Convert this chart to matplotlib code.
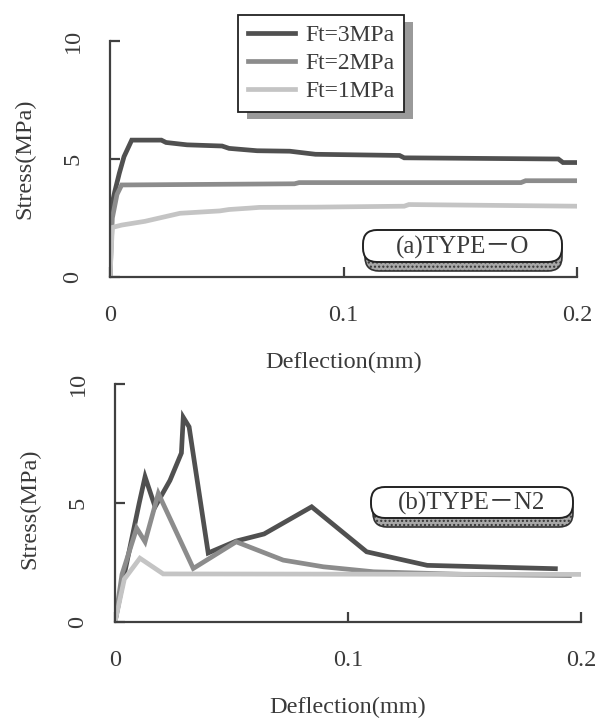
import matplotlib
matplotlib.use("Agg")
import matplotlib.pyplot as plt
from matplotlib.patches import FancyBboxPatch, Rectangle
from matplotlib.transforms import Affine2D

# ---------------- data ----------------
series_labels = ["Ft=3MPa", "Ft=2MPa", "Ft=1MPa"]

top_x3 = [0, 0.0005, 0.002, 0.004, 0.006, 0.0093, 0.022, 0.024, 0.033, 0.048, 0.051, 0.063, 0.077, 0.088, 0.124, 0.126, 0.192, 0.194, 0.2]
top_y3 = [0, 2.9, 3.6, 4.4, 5.1, 5.8, 5.8, 5.7, 5.6, 5.55, 5.45, 5.35, 5.33, 5.2, 5.15, 5.05, 5.0, 4.85, 4.85]
top_x2 = [0, 0.001, 0.003, 0.005, 0.079, 0.081, 0.176, 0.178, 0.2]
top_y2 = [0, 2.5, 3.5, 3.9, 3.95, 4.0, 4.0, 4.08, 4.08]
top_x1 = [0, 0.001, 0.005, 0.015, 0.030, 0.047, 0.051, 0.060, 0.064, 0.088, 0.126, 0.128, 0.2]
top_y1 = [0, 2.1, 2.2, 2.36, 2.7, 2.8, 2.86, 2.92, 2.95, 2.96, 3.0, 3.07, 3.0]

bot_x3 = [0, 0.004, 0.0104, 0.0129, 0.0172, 0.0236, 0.0285, 0.0293, 0.0318, 0.040, 0.052, 0.064, 0.0844, 0.108, 0.134, 0.189]
bot_y3 = [0, 2.0, 5.0, 6.1, 4.84, 5.95, 7.1, 8.6, 8.2, 2.9, 3.4, 3.7, 4.84, 2.95, 2.38, 2.24]
bot_x2 = [0, 0.003, 0.0093, 0.0129, 0.0186, 0.0336, 0.052, 0.0722, 0.0894, 0.111, 0.15, 0.195]
bot_y2 = [0, 2.0, 3.94, 3.37, 5.4, 2.25, 3.37, 2.6, 2.32, 2.11, 2.0, 1.95]
bot_x1 = [0, 0.004, 0.0107, 0.0207, 0.2]
bot_y1 = [0, 1.8, 2.68, 2.02, 2.0]

x_ticks = [0, 0.1, 0.2]
x_ticklabels = ["0", "0.1", "0.2"]
y_ticks = [0, 5, 10]
y_ticklabels = ["0", "5", "10"]
x_label = "Deflection(mm)"
y_label = "Stress(MPa)"
panel_titles = ["(a)TYPE－O", "(b)TYPE－N2"]

# ---------------- style ----------------
plt.rcParams["font.family"] = ["Liberation Serif", "Noto Sans CJK JP", "DejaVu Sans"]
TXT = "#3a3a3a"
colors = ["#505050", "#8c8c8c", "#c4c4c4"]
LW = 3.4
FS = 17.5

W, H = 600, 722
fig = plt.figure(figsize=(W / 100, H / 100), dpi=100)
fig.patch.set_facecolor("white")
# pixel transform (top-left origin)
PX = Affine2D().scale(1, -1).translate(0, H).scale(1 / W, 1 / H) + fig.transFigure


def make_ax(l, r, t, b):
    return fig.add_axes([l / W, 1 - b / H, (r - l) / W, (b - t) / H])


ax1 = make_ax(110, 577, 41, 277)
ax2 = make_ax(115, 581, 384, 622)

panels = [
    (ax1, [(top_x3, top_y3), (top_x2, top_y2), (top_x1, top_y1)], 0.5, -0.364),
    (ax2, [(bot_x3, bot_y3), (bot_x2, bot_y2), (bot_x1, bot_y1)], 0.475, -0.361),
]

handles = None
for ax, series, ylab_y, xlab_y in panels:
    hs = []
    for (xs, ys), c, lab in zip(series, colors, series_labels):
        h, = ax.plot(xs, ys, color=c, lw=LW, solid_joinstyle="miter", label=lab)
        hs.append(h)
    if handles is None:
        handles = hs
    ax.set_xlim(0, 0.2)
    ax.set_ylim(0, 10)
    ax.set_xticks(x_ticks)
    ax.set_xticklabels(x_ticklabels)
    ax.set_yticks(y_ticks)
    ax.set_yticklabels(y_ticklabels, rotation=90, va="center")
    for s in ["top", "right"]:
        ax.spines[s].set_visible(False)
    for s in ["left", "bottom"]:
        ax.spines[s].set_color("#404040")
        ax.spines[s].set_linewidth(1.6)
    ax.tick_params(direction="in", length=7, width=1.6, color="#404040",
                   labelsize=FS, labelcolor=TXT)
    ax.tick_params(axis="x", pad=20)
    ax.tick_params(axis="y", pad=19)
    ax.set_xlabel(x_label, fontsize=FS, color=TXT, va="center")
    ax.xaxis.set_label_coords(0.5, xlab_y)
    ax.set_ylabel(y_label, fontsize=FS, color=TXT, va="center")
    ax.yaxis.set_label_coords(-0.182, ylab_y)
    ax.set_facecolor("none")

# ---------------- legend ----------------
leg = ax1.legend(handles=handles, loc="upper left", bbox_to_anchor=(238, 15),
                 bbox_transform=PX, fontsize=17, frameon=True, fancybox=False,
                 framealpha=1, edgecolor="#222222", handlelength=2.0,
                 handletextpad=0.42, labelspacing=0.26, borderpad=0.42,
                 borderaxespad=0)
leg.get_frame().set_linewidth(1.3)
for t in leg.get_texts():
    t.set_color(TXT)
leg.set_zorder(20)

fig.canvas.draw()
bb = leg.get_window_extent()
lx0, lx1 = bb.x0, bb.x1
ly_top, ly_bot = H - bb.y1, H - bb.y0
shadow = Rectangle((lx0 + 9, ly_top + 7), lx1 - lx0, ly_bot - ly_top,
                   transform=PX, facecolor="#9a9a9a", edgecolor="none",
                   hatch="....", zorder=9)
shadow.set_clip_on(False)
ax1.add_patch(shadow)

# ---------------- panel title boxes ----------------
boxes = [(363, 230, 562, 262, 0), (371, 487, 573, 518, 1)]
for x0, y0, x1, y1, i in boxes:
    sh = FancyBboxPatch((x0 + 2, y0 + 9), x1 - x0 - 2, y1 - y0,
                        boxstyle="round,pad=0,rounding_size=14",
                        transform=PX, facecolor="#a8a8a8", edgecolor="#333333",
                        lw=1.2, hatch="....", zorder=30)
    fig.add_artist(sh)
    bx = FancyBboxPatch((x0, y0), x1 - x0, y1 - y0,
                        boxstyle="round,pad=0,rounding_size=14",
                        transform=PX, facecolor="white", edgecolor="#222222",
                        lw=1.4, zorder=31)
    fig.add_artist(bx)
    fig.text((x0 + x1) / 2, (y0 + y1) / 2 + 1, panel_titles[i], transform=PX,
             ha="center", va="center", fontsize=18, color=TXT, zorder=32)

fig.savefig("out.png", dpi=100, facecolor="white")
